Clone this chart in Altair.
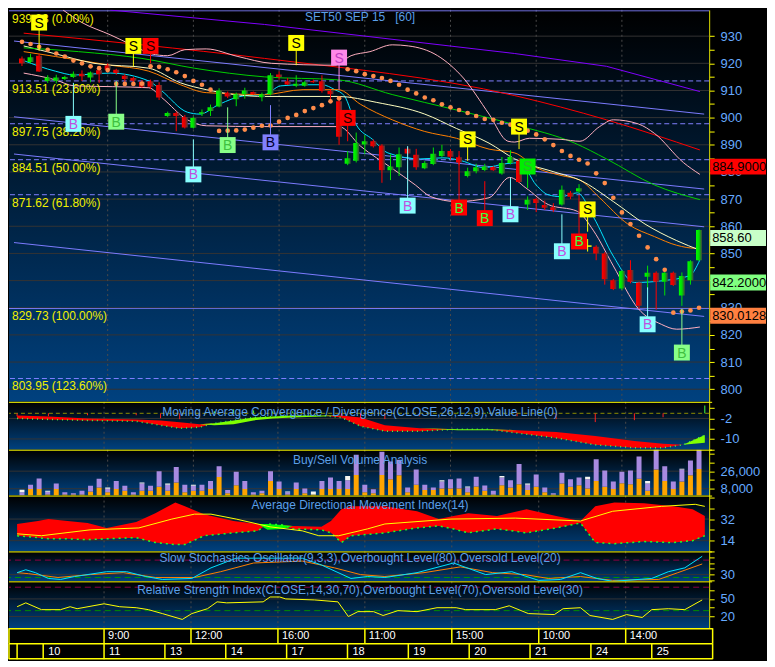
import altair as alt
import pandas as pd

# ---------------------------------------------------------------- candles (hourly bars)
bars = list(range(80))
opens = [921.8, 920.5, 922.8, 913.5, 913.6, 914.2, 915.0, 916.2, 914.8, 917.4,
         919.2, 917.6, 915.4, 914.6, 913.2, 913.4, 912.0, 900.6, 901.7, 900.2,
         896.3, 901.4, 902.4, 904.1, 909.2, 906.8, 908.6, 909.4, 907.5, 908.6,
         915.9, 913.4, 911.7, 911.7, 913.5, 913.4, 909.8, 906.0, 883.0, 884.1,
         890.1, 891.3, 889.7, 880.6, 881.7, 888.5, 886.3, 881.4, 882.9, 885.9,
         887.7, 885.4, 878.5, 880.3, 880.7, 881.8, 879.4, 883.3, 884.0, 868.0,
         870.0, 867.8, 867.0, 868.0, 872.3, 872.8, 852.7, 852.5, 850.0, 840.1,
         837.1, 843.9, 839.3, 841.4, 842.9, 839.6, 842.9, 834.5, 840.1, 847.5]
highs = [922.5, 923.5, 923.5, 915.6, 915.8, 915.4, 917.0, 917.4, 917.0, 918.2,
         920.0, 918.0, 916.0, 915.0, 913.8, 914.0, 913.0, 902.2, 902.2, 901.0,
         900.4, 903.0, 904.8, 910.8, 909.6, 909.2, 911.0, 909.6, 909.2, 916.4,
         917.0, 914.6, 915.6, 913.6, 914.0, 915.6, 910.4, 907.0, 887.7, 894.5,
         893.5, 892.0, 890.2, 886.5, 889.0, 889.2, 888.5, 884.0, 889.0, 890.0,
         888.4, 886.0, 881.6, 883.0, 883.0, 882.2, 885.5, 888.0, 885.0, 871.0,
         870.5, 869.5, 868.5, 875.0, 873.0, 875.5, 855.3, 853.0, 850.5, 840.6,
         843.8, 847.5, 839.6, 845.5, 843.4, 843.5, 843.3, 843.0, 847.5, 858.8]
lows = [919.0, 920.0, 916.8, 912.8, 912.6, 913.8, 914.6, 913.5, 913.0, 912.8,
        916.6, 915.8, 913.2, 913.0, 911.0, 910.5, 906.5, 900.2, 895.0, 896.0,
        896.0, 900.6, 900.6, 903.8, 907.2, 904.2, 907.0, 908.4, 906.0, 908.2,
        914.0, 912.0, 911.2, 911.4, 912.8, 909.2, 905.6, 890.0, 882.5, 883.5,
        886.5, 889.0, 876.0, 877.0, 878.5, 886.2, 880.8, 881.0, 882.5, 885.5,
        884.6, 882.5, 878.0, 879.5, 880.3, 880.4, 879.0, 882.8, 876.0, 866.0,
        865.2, 866.0, 865.2, 867.6, 870.0, 872.3, 850.7, 847.5, 838.5, 836.5,
        836.5, 839.0, 829.6, 836.7, 829.3, 834.5, 838.0, 830.7, 838.5, 847.2]
closes = [920.0, 922.2, 917.0, 914.8, 914.8, 915.0, 916.2, 915.2, 916.6, 916.0,
          917.6, 916.4, 914.2, 913.6, 911.4, 911.4, 907.4, 901.7, 900.6, 896.4,
          899.9, 902.0, 903.8, 910.0, 907.8, 908.6, 910.0, 908.6, 908.6, 915.6,
          915.0, 912.2, 912.5, 913.0, 913.0, 909.8, 908.6, 893.0, 885.0, 890.7,
          891.3, 889.5, 880.6, 882.0, 886.5, 886.8, 881.7, 883.3, 886.7, 887.7,
          885.6, 883.5, 880.3, 881.7, 882.0, 880.6, 883.3, 885.5, 876.3, 869.8,
          868.6, 866.8, 866.0, 873.4, 870.9, 874.0, 852.7, 850.0, 840.5, 836.9,
          843.5, 839.6, 830.7, 842.9, 839.6, 842.9, 838.4, 841.7, 847.1, 858.6]
sar = [927.9, 927.1, 926.1, 925.0, 923.6, 922.5, 921.0, 920.0, 918.9, 918.2,
       917.5, 912.4, 912.4, 912.4, 912.5, 918.9, 918.7, 917.8, 916.7, 915.3,
       913.5, 912.1, 910.3, 895.1, 895.2, 895.3, 895.6, 896.3, 897.0, 897.1,
       898.5, 899.9, 901.0, 902.4, 903.5, 904.6, 906.0, 907.1, 917.8, 917.1,
       916.0, 915.3, 914.6, 913.5, 912.1, 910.3, 908.9, 907.4, 906.4, 904.9,
       903.8, 902.8, 901.7, 900.6, 899.5, 899.2, 898.1, 897.4, 896.7, 895.2,
       893.8, 892.0, 889.9, 887.7, 885.9, 884.5, 883.1, 879.5, 875.9, 870.5,
       865.1, 860.8, 856.5, 852.2, 847.9, 844.0, 828.2, 828.6, 829.0, 830.0]

# ---------------------------------------------------------------- overlay lines (bar index, price)
ema_fast = [(0.2, 921.0), (3.9, 917.1), (6.1, 915.7), (10.3, 916.4), (14.8, 913.5), (16.3, 909.9),
            (19.3, 902.0), (20.75, 901.3), (23, 904.9), (26, 908.1), (28.3, 908.5), (30.2, 911.7),
            (32.8, 912.1), (35, 912.1), (36.5, 910.3), (37.6, 908.1), (39, 897.4), (40.9, 892.0),
            (42.7, 887.0), (46.5, 884.8), (49.1, 885.2), (51.3, 884.1), (53.9, 881.6), (56.6, 883.1),
            (58.1, 883.4), (60, 875.2), (61.4, 871.6), (62.9, 870.9), (64.8, 872.3), (66.7, 863.3),
            (69, 849.0), (71.5, 839.3), (74.9, 840.0), (77.9, 841.8), (79.1, 847.6)]
ema_mid = [(0.2, 924.3), (3.9, 922.5), (10.3, 919.3), (14.8, 917.1), (18.5, 912.1), (21.5, 909.2),
           (28.3, 908.5), (32.8, 910.3), (36.9, 910.3), (39.5, 904.9), (43.2, 899.2), (47.0, 894.9),
           (50.7, 892.4), (54.5, 888.4), (57.5, 887.0), (60, 881.6), (62.9, 878.7), (65.1, 877.0),
           (67.4, 870.5), (70.7, 860.8), (73.8, 856.2), (76.4, 853.0), (78.6, 851.9), (79.1, 852.3)]
sma_mid = [(0.2, 926.4), (3.9, 923.5), (8.4, 920.0), (14.8, 918.2), (18.5, 912.8), (21.5, 910.3),
           (28.3, 907.8), (36.9, 907.8), (41.4, 905.6), (47.0, 901.3), (50.7, 896.0), (54.5, 890.6),
           (57.5, 884.8), (62.2, 879.9), (65.1, 877.0), (69, 869.1), (72.7, 860.8), (76.4, 854.7),
           (79.1, 851.2)]
sma_slow = [(0.2, 925.7), (6.6, 924.3), (14, 921.8), (20.1, 918.2), (28.3, 915.0), (36.9, 913.9),
            (43.2, 908.5), (50.7, 902.8), (57.5, 897.4), (64.5, 890.6), (68.2, 884.8), (73.8, 875.2),
            (79.1, 869.8)]
sma_long = [(0.2, 931.1), (14, 926.8), (28.3, 921.8), (57.5, 908.1), (68.2, 899.2), (79.1, 888.1)]
bb_upper = [(4.8, 939.6), (7, 935.0), (10.3, 930.5), (13, 926.5), (15.1, 923.5), (17.0, 922.8),
            (19, 925.0), (21.5, 925.3), (25.2, 922.5), (29.1, 920.0), (36.5, 919.3), (38.4, 922.8),
            (40.6, 924.3), (43.2, 926.8), (45.1, 926.4), (48.5, 922.8), (51.5, 914.6), (54.5, 901.3),
            (56.7, 891.3), (57.5, 891.0), (59.2, 892.4), (62.9, 892.0), (65.1, 891.3), (67.4, 896.7),
            (69, 899.2), (71.9, 897.7), (73.8, 894.2), (77.2, 883.4), (79.1, 879.1)]
bb_lower = [(0.2, 916.4), (3.9, 913.9), (6.1, 911.7), (10.6, 911.4), (14.8, 911.0), (16.3, 907.4),
            (19.3, 899.2), (21.5, 897.0), (28.3, 896.7), (37.0, 896.7), (39.5, 889.5), (43.2, 881.3),
            (45.9, 875.2), (47.7, 870.9), (50.7, 869.1), (54.5, 870.5), (56.9, 878.0), (58.8, 874.1),
            (61.4, 868.0), (64.8, 865.5), (66.7, 858.3), (69, 845.4), (71.9, 829.7), (74.6, 823.9),
            (76.4, 822.1), (79.1, 822.9)]
trend_1 = [(-0.93, 928.2), (79.6, 901.3)]
trend_2 = [(-0.93, 900.3), (79.6, 873.7)]
trend_3 = [(-0.93, 886.6), (79.6, 859.8)]
trend_4 = [(-0.93, 854.0), (79.6, 826.8)]
trend_top = [(10.3, 939.6), (28.3, 934.3), (57.5, 923.6), (68.2, 918.9), (79.1, 909.6)]

fib_vals = [939.33, 913.51, 897.75, 884.51, 871.62, 829.73, 803.95]
fib_pcts = ["0.00%", "23.60%", "38.20%", "50.00%", "61.80%", "100.00%", "123.60%"]
fib_kind = ["solid", "dash", "dash", "dash", "dash", "solid", "dash"]

# buy / sell signals
mk_i = [2, 13, 15, 6, 11, 20, 24, 29, 32, 37, 38, 45, 51, 52, 54, 57, 58, 59, 63, 65, 66, 73, 77]
mk_p = [935.0, 926.4, 926.4, 897.7, 898.5, 879.1, 889.9, 890.9, 927.5, 922.1, 899.9, 867.6, 866.9,
        892.0, 863.0, 864.4, 896.7, 882.0, 850.8, 854.4, 866.2, 823.9, 813.5]
mk_end = [924.6, 918.9, 920.0, 912.8, 913.5, 892.0, 903.8, 904.6, 919.3, 910.3, 891.3, 889.5, 887.7,
          884.1, 876.6, 878.0, 888.4, 874.1, 864.4, 871.6, 858.0, 837.5, 829.6]
mk_txt = ["S", "S", "S", "B", "B", "B", "B", "B", "S", "S", "S", "B", "B", "S", "B", "B", "S", "S",
          "B", "B", "S", "B", "B"]
mk_kind = ["ys", "ys", "rs", "cb", "gb", "cb", "gb", "pb", "ys", "ms", "rs", "cb", "rb", "ys", "rb",
           "cb", "ys", "gs", "cb", "rb", "ys", "cb", "gb"]

tag_vals = [884.9, 858.6, 842.2, 830.0128]
tag_txt = ["884.9000", "858.60", "842.2000", "830.0128"]
tag_kind = ["red", "lime", "green", "orange"]

# MACD
macd_i = [0, 3.6, 8.1, 13.7, 16.5, 18.7, 21, 22.7, 24.9, 27.2, 29.4, 31.7, 35, 37.3, 39.5, 42.3,
          46.3, 50.7, 54.1, 57.5, 62, 66.5, 71, 74.3, 76.6, 79.1]
macd_m = [-2.0, -2.38, -2.76, -3.14, -4.67, -5.81, -5.43, -3.9, -2.76, -1.62, -1.24, -0.86, -0.86,
          -1.62, -5.05, -6.95, -6.95, -6.19, -6.19, -7.71, -9.62, -12.29, -13.43, -13.43, -12.29, -8.48]
macd_s = [-0.86, -1.24, -2.0, -2.38, -2.76, -3.52, -4.29, -4.67, -4.29, -2.76, -2.0, -1.62, -1.24,
          -0.86, -1.62, -4.67, -5.81, -6.57, -6.57, -6.57, -7.33, -8.86, -10.76, -11.9, -12.29, -11.52]

# volume
vol_buy = [0, 7700, 7700, 2000, 7700, 2000, 2000, 2000, 5300, 9300,
           4300, 7700, 6000, 2000, 6000, 6000, 10000, 6000, 14300, 4300,
           6000, 6000, 7700, 20000, 3300, 11700, 7700, 2000, 3300, 16000,
           7700, 2000, 7700, 3300, 2000, 7700, 7700, 7700, 7700, 22000,
           4300, 3300, 22000, 17700, 21700, 4300, 12000, 6700, 6700, 8300,
           8300, 8300, 4300, 10300, 6000, 2000, 11700, 9300, 12700, 6700,
           10000, 4300, 2000, 13300, 10000, 11700, 8300, 16000, 10000, 7700,
           13700, 12700, 18300, 6000, 27700, 16000, 7700, 15300, 21700, 28300]
vol_sell = [4300, 4300, 10700, 3000, 5700, 2300, 1300, 4000, 5700, 9000,
            3700, 8300, 5000, 2300, 7300, 5000, 16000, 6000, 16000, 7700,
            5000, 6000, 8300, 11000, 3300, 13700, 8300, 2300, 2700, 10000,
            7700, 2300, 6700, 5000, 0, 8300, 11700, 8300, 9000, 20700,
            7700, 4300, 24000, 18300, 16000, 5000, 15700, 5300, 2700, 7000,
            9300, 10300, 5000, 10000, 5300, 4000, 7700, 7300, 20700, 5300,
            12700, 5000, 1300, 11000, 7700, 7700, 9300, 22300, 16700, 7700,
            11700, 14000, 22700, 7300, 27700, 15000, 7700, 12300, 15300, 20000]
vol_even = [2700, 0, 0, 1000, 0, 0, 0, 0, 0, 0,
            1300, 0, 0, 0, 1000, 0, 0, 1300, 0, 0,
            1000, 0, 0, 0, 0, 0, 0, 0, 0, 0,
            0, 1000, 0, 0, 3300, 0, 0, 0, 4300, 0,
            0, 0, 0, 0, 0, 0, 0, 0, 0, 1300,
            0, 0, 1000, 0, 0, 0, 1700, 0, 0, 1300,
            0, 0, 0, 0, 0, 0, 2700, 0, 0, 0,
            0, 0, 0, 2700, 0, 0, 0, 1000, 0, 0]

# ADX / DMI
dmi_i = [0, 2.4, 3.6, 5.8, 8.1, 10.3, 13.7, 15.9, 18.2, 19.3, 21.5, 24.9, 27.7, 28.8, 30.5, 31.7,
         35, 36.1, 37.3, 38.4, 42.3, 46.0, 48.5, 50.2, 51.9, 55.2, 58.6, 62, 64.8, 66.5, 68.7, 72.1,
         75.5, 77.7, 79.1]
dmi_minus = [27.9, 30.4, 32.0, 30.4, 28.7, 24.6, 29.5, 36.9, 45.9, 42.6, 36.1, 30.4, 27.9, 23.0, 23.8,
             26.3, 25.5, 30.4, 40.2, 42.6, 42.6, 38.5, 32.0, 34.5, 36.9, 34.5, 40.2, 34.5, 30.4, 42.6,
             45.9, 45.1, 42.6, 40.2, 34.5]
dmi_plus = [18.1, 16.5, 15.6, 15.6, 14.8, 15.6, 16.5, 12.4, 10.7, 10.7, 18.1, 20.5, 22.2, 27.9, 27.1,
            23.8, 23.0, 20.5, 12.4, 18.1, 20.5, 24.6, 26.3, 23.8, 20.5, 23.8, 20.5, 24.6, 28.7, 12.4,
            11.5, 13.2, 12.4, 14.0, 18.1]
adx_i = [0, 2.8, 8.4, 14, 17.8, 20.4, 22.3, 25.2, 29.1, 32.8, 34.7, 37, 40.3, 42.3, 49.9, 57.3, 64.8,
         68.5, 74.1, 78, 79.1]
adx_v = [19.7, 18.1, 23.0, 24.6, 32.0, 36.1, 36.1, 32.0, 25.5, 22.2, 18.1, 18.1, 23.8, 27.9, 32.0,
         32.8, 30.4, 38.5, 42.6, 44.3, 42.6]

# slow stochastics
stk_i = [0, 1, 2.1, 3.6, 5, 6.6, 10.3, 12.6, 14.8, 16.7, 20.1, 22.3, 25.2, 27.2, 32.8, 35, 38.4, 40.3,
         42.3, 46, 50.2, 53.9, 56.9, 60, 62.5, 64.8, 66.7, 68.5, 73, 74.9, 76.8, 78.8]
stk_k = [36.7, 46.7, 36.7, 16.7, 13.3, 23.3, 40, 40, 23.3, 13.3, 16.7, 53.3, 86.7, 86.7, 86.7, 63.3,
         16.7, 23.3, 20, 36.7, 70, 30, 40, 10, 13.3, 36.7, 16.7, 6.7, 16.7, 40, 53.3, 93.3]
std_i = [0, 1.3, 4.7, 8.4, 12.2, 15.9, 20.4, 23.4, 27.2, 32.8, 36.5, 39.5, 42.3, 46.8, 51, 54.7, 58.4,
         61.1, 64.8, 68.5, 73.8, 76, 78.8]
std_d = [36.7, 33.3, 20, 30, 36.7, 20, 20, 40, 70, 76.7, 53.3, 30, 23.3, 36.7, 56.7, 36.7, 30, 16.7,
         23.3, 10, 13.3, 36.7, 66.7]

# RSI
rsi_i = [0, 1, 2.8, 5, 6.1, 6.9, 10, 11.8, 13.7, 15.1, 16.7, 19, 20.1, 21.9, 23, 24.1, 28.3, 29.1,
         30.2, 30.9, 34.2, 36.9, 38.1, 39.2, 41, 42.1, 43.8, 46, 48.3, 50.5, 51.6, 55, 56.6, 58.8,
         61.8, 62.8, 64.8, 65.9, 68.5, 70.1, 71.9, 73, 74.9, 76.8, 78.8]
rsi_v = [36.7, 43.3, 31.7, 31.7, 36.7, 33.3, 41.7, 36.7, 35, 31.7, 25, 15, 25, 33.3, 45, 43.3, 45,
         53.3, 53.3, 50, 48.3, 45, 20, 28.3, 28.3, 21.7, 30, 28.3, 35, 35, 31.7, 31.7, 38.3, 25, 23.3,
         33.3, 35, 21.7, 15, 23.3, 18.3, 31.7, 33.3, 31.7, 48.3]

# time axis
hour_i = [10, 20, 30, 40, 50, 60, 70]
hour_txt = ["9:00", "12:00", "16:00", "11:00", "15:00", "10:00", "14:00"]
day_i = [3, 10, 17, 24, 31, 38, 45, 52, 59, 66, 73]
day_txt = ["10", "11", "13", "14", "17", "18", "19", "20", "21", "24", "25"]
price_grid = list(range(800, 931, 10))

# ---------------------------------------------------------------- styles / layout
W = 702
H_MAIN, H_MACD, H_VOL, H_ADX, H_STO, H_RSI, H_TIME = 393, 48, 46, 56, 30, 47, 31
X0, X1 = -0.933, 79.6
FONT = "Liberation Sans"
AXBLUE = "#66aaff"
TTLBLUE = "#5a9fe8"
YEL = "#ffff00"
GRID = "#333333"
VGRID = "#4a4a4a"
XS = alt.Scale(domain=[X0, X1], nice=False, zero=False)
BG = alt.LinearGradient(gradient="linear",
                        stops=[alt.GradientStop(color="#000000", offset=0),
                               alt.GradientStop(color="#00417f", offset=1)],
                        x1=0, x2=0, y1=0, y2=1)
G_UP = alt.LinearGradient(gradient="linear",
                          stops=[alt.GradientStop(color="#00ff00", offset=0),
                                 alt.GradientStop(color="#00dd00", offset=0.5),
                                 alt.GradientStop(color="#404040", offset=1)],
                          x1=0, x2=1, y1=0, y2=0)
G_DN = alt.LinearGradient(gradient="linear",
                          stops=[alt.GradientStop(color="#ff0000", offset=0),
                                 alt.GradientStop(color="#dd0000", offset=0.5),
                                 alt.GradientStop(color="#404040", offset=1)],
                          x1=0, x2=1, y1=0, y2=0)
MK_STYLE = {"ys": ("#ffff00", "#000000"), "rs": ("#ff0000", "#200000"),
            "cb": ("#88ffff", "#c050e0"), "gb": ("#88ff88", "#40c040"),
            "pb": ("#8080ff", "#000030"), "ms": ("#ff88e8", "#c040c0"),
            "rb": ("#ff0000", "#40ff40"), "gs": ("#00ee00", "#30b030")}
TAG_STYLE = {"red": "#ff0000", "lime": "#c8ffc8", "green": "#80ff80", "orange": "#ff8040"}
TAG_SHAPE = "M-1,-0.2857L1,-0.2857L1,0.2857L-1,0.2857Z"
LINE_STYLE = {"ema_fast": "#00e5ff", "ema_mid": "#ff8000", "sma_mid": "#ffffc0",
              "sma_slow": "#00d000", "sma_long": "#ff0000", "bb_upper": "#ffb0c0",
              "bb_lower": "#ffb0c0"}
TREND_STYLE = {"t1": "#7b7bff", "t2": "#7b7bff", "t3": "#7b7bff", "t4": "#7b7bff", "top": "#8000ff"}

one = pd.DataFrame({"k": [0]})
vg = pd.DataFrame({"g": hour_i})


def X(f):
    return alt.X(f, type="quantitative", scale=XS, axis=None)


def yaxis(values, labeled, comma=False):
    cond = " || ".join("datum.value == %s" % v for v in labeled)
    txt = "format(datum.value, ',d')" if comma else "toString(datum.value)"
    return alt.Axis(orient="right", values=values, labelExpr="(%s) ? %s : ''" % (cond, txt),
                    domainColor=YEL, tickColor=YEL, tickSize=5, labelColor=AXBLUE,
                    labelFont=FONT, labelFontSize=13, labelPadding=6, grid=False,
                    title=None, labelOverlap=False, domainWidth=1, tickWidth=1)


def base_layers(h, Yf, grid_vals):
    return [
        alt.Chart(one).mark_rect(color=BG).encode(
            x=alt.value(0), x2=alt.value(W), y=alt.value(0), y2=alt.value(h)),
        alt.Chart(pd.DataFrame({"g": grid_vals})).mark_rule(color=GRID).encode(y=Yf("g")),
        alt.Chart(vg).mark_rule(color=VGRID, strokeDash=[2, 3]).encode(x=X("g")),
    ]


def top_layers(title, ty):
    return [
        alt.Chart(one).mark_rule(color=YEL, strokeWidth=1).encode(
            x=alt.value(0), x2=alt.value(W + 3), y=alt.value(0.5)),
        alt.Chart(one).mark_text(text=title, font=FONT, fontSize=12, color=TTLBLUE,
                                 align="center", baseline="middle").encode(
            x=alt.value(352), y=alt.value(ty)),
    ]


def pts(name, seq):
    return [{"name": name, "i": a, "p": b} for a, b in seq]


# ---------------------------------------------------------------- main price panel
ysm = alt.Scale(domain=[795.36, 939.68], nice=False, zero=False)
axm = yaxis(list(range(800, 935, 5)), list(range(800, 935, 10)))


def YM(f):
    return alt.Y(f, type="quantitative", scale=ysm, axis=axm)


cdf = pd.DataFrame({"i": bars, "o": opens, "h": highs, "l": lows, "c": closes})
cdf["lo"] = cdf[["o", "c"]].min(axis=1)
cdf["hi"] = cdf[["o", "c"]].max(axis=1)
cdf["dir"] = ["up" if c > o else ("down" if c < o else "flat") for o, c in zip(opens, closes)]
cdf["wc"] = cdf["dir"].map({"up": "#00e000", "down": "#ff0000", "flat": YEL})

ma_rows = []
for nm, seq in [("ema_fast", ema_fast), ("ema_mid", ema_mid), ("sma_mid", sma_mid),
                ("sma_slow", sma_slow), ("sma_long", sma_long), ("bb_upper", bb_upper),
                ("bb_lower", bb_lower)]:
    ma_rows += pts(nm, seq)
madf = pd.DataFrame(ma_rows)
madf["col"] = madf["name"].map(LINE_STYLE)

tr_rows = []
for nm, seq in [("t1", trend_1), ("t2", trend_2), ("t3", trend_3), ("t4", trend_4), ("top", trend_top)]:
    tr_rows += pts(nm, seq)
trdf = pd.DataFrame(tr_rows)
trdf["col"] = trdf["name"].map(TREND_STYLE)

fibdf = pd.DataFrame({"p": fib_vals, "kind": fib_kind,
                      "t": ["%.2f (%s)" % (v, q) for v, q in zip(fib_vals, fib_pcts)]})

mdf = pd.DataFrame({"i": mk_i, "p": mk_p, "e": mk_end, "t": mk_txt, "kind": mk_kind})
mdf["bg"] = mdf["kind"].map(lambda k: MK_STYLE[k][0])
mdf["fg"] = mdf["kind"].map(lambda k: MK_STYLE[k][1])

tagdf = pd.DataFrame({"p": tag_vals, "t": tag_txt, "kind": tag_kind})
tagdf["bg"] = tagdf["kind"].map(TAG_STYLE)

main_layers = base_layers(H_MAIN, YM, price_grid) + [
    alt.Chart(fibdf).mark_rule(color="#8080ff", strokeWidth=1).encode(
        y=YM("p"),
        strokeDash=alt.StrokeDash("kind:N", scale=alt.Scale(domain=["solid", "dash"],
                                                             range=[[1, 0], [5, 3]]), legend=None)),
    alt.Chart(trdf).mark_line(strokeWidth=1, clip=True).encode(
        x=X("i"), y=YM("p"), color=alt.Color("col:N", scale=None), detail="name:N"),
    alt.Chart(madf).mark_line(strokeWidth=1, clip=True, interpolate="monotone").encode(
        x=X("i"), y=YM("p"), color=alt.Color("col:N", scale=None), detail="name:N"),
    alt.Chart(fibdf).mark_text(font=FONT, fontSize=12, color="#f0f000", align="left",
                               baseline="top", dy=3).encode(
        x=alt.value(3), y=YM("p"), text="t:N"),
    alt.Chart(cdf).mark_rule(strokeWidth=1, clip=True).encode(
        x=X("i"), y=YM("l"), y2=alt.Y2("h"), color=alt.Color("wc:N", scale=None)),
    alt.Chart(cdf[cdf["dir"] == "up"]).mark_bar(size=6, color=G_UP, clip=True).encode(
        x=X("i"), y=YM("lo"), y2=alt.Y2("hi")),
    alt.Chart(cdf[cdf["dir"] == "down"]).mark_bar(size=6, color=G_DN, clip=True).encode(
        x=X("i"), y=YM("lo"), y2=alt.Y2("hi")),
    alt.Chart(cdf[cdf["dir"] == "flat"]).mark_point(shape="M-1,0L1,0", size=64, strokeWidth=1.5,
                                                    color=YEL, filled=False, opacity=1).encode(
        x=X("i"), y=YM("c")),
    alt.Chart(pd.DataFrame({"i": bars, "p": sar})).mark_circle(size=22, color="#ff8c4a",
                                                               opacity=1, clip=True).encode(
        x=X("i"), y=YM("p")),
    alt.Chart(mdf).mark_rule(strokeWidth=1).encode(
        x=X("i"), y=YM("p"), y2=alt.Y2("e"), color=alt.Color("bg:N", scale=None)),
    alt.Chart(mdf).mark_square(size=256, opacity=1, filled=True).encode(
        x=X("i"), y=YM("p"), color=alt.Color("bg:N", scale=None)),
    alt.Chart(mdf).mark_text(font=FONT, fontSize=14, align="center", baseline="middle", dy=1).encode(
        x=X("i"), y=YM("p"), text="t:N", color=alt.Color("fg:N", scale=None)),
    alt.Chart(one).mark_text(text="SET50 SEP 15\u00a0\u00a0\u00a0[60]", font=FONT, fontSize=12,
                             color=TTLBLUE, align="center", baseline="middle").encode(
        x=alt.value(352), y=alt.value(7)),
    alt.Chart(tagdf).mark_point(shape=TAG_SHAPE, size=56 * 56, filled=True, opacity=1,
                                strokeWidth=0, yOffset=8).encode(
        x=alt.value(W + 29), y=YM("p"), color=alt.Color("bg:N", scale=None)),
    alt.Chart(tagdf).mark_text(font=FONT, fontSize=13, color="#000000", align="left",
                               baseline="middle", dy=8).encode(
        x=alt.value(W + 3), y=YM("p"), text="t:N"),
]
main = alt.layer(*main_layers).properties(width=W, height=H_MAIN)

# ---------------------------------------------------------------- MACD
ys_macd = alt.Scale(domain=[-14.19, 4.48], nice=False, zero=False)
ax_macd = yaxis([-14, -10, -6, -2, 2], [-2, -10])


def YMA(f):
    return alt.Y(f, type="quantitative", scale=ys_macd, axis=ax_macd)


macdf = pd.DataFrame({"i": macd_i, "m": macd_m, "s": macd_s})
macd_base = alt.Chart(macdf).transform_calculate(
    r_lo="datum.m", r_hi="max(datum.s, datum.m)", g_lo="datum.s", g_hi="max(datum.m, datum.s)",
    hist="datum.m - datum.s", z="0", hc="datum.m < datum.s ? '#ff2020' : '#40ff40'")
macd_layers = base_layers(H_MACD, YMA, [-2, -10]) + [
    alt.Chart(one).transform_calculate(z="0").mark_rule(color="#8c8c00", strokeDash=[4, 3]).encode(
        y=YMA("z:Q")),
    macd_base.mark_rule(strokeWidth=1).encode(x=X("i"), y=YMA("z:Q"), y2=alt.Y2("hist:Q"),
                                              color=alt.Color("hc:N", scale=None)),
    macd_base.mark_area(color="#ff0000", opacity=1).encode(x=X("i"), y=YMA("r_lo:Q"), y2=alt.Y2("r_hi:Q")),
    macd_base.mark_area(color="#80ff00", opacity=1).encode(x=X("i"), y=YMA("g_lo:Q"), y2=alt.Y2("g_hi:Q")),
    macd_base.mark_line(color="#40ff40", strokeDash=[1, 4], strokeWidth=1.5).encode(x=X("i"), y=YMA("m")),
] + top_layers("Moving Average Convergence / Divergence(CLOSE,26,12,9),Value Line(0)", 10)
macd = alt.layer(*macd_layers).properties(width=W, height=H_MACD)

# ---------------------------------------------------------------- volume
ys_vol = alt.Scale(domain=[1000, 48000], nice=False, zero=False)
ax_vol = yaxis([8000, 17000, 26000, 35000, 44000], [8000, 26000], comma=True)


def YV(f):
    return alt.Y(f, type="quantitative", scale=ys_vol, axis=ax_vol)


vdf = pd.DataFrame({"i": bars, "b": vol_buy, "s": vol_sell, "n": vol_even})
vbase = alt.Chart(vdf).transform_calculate(
    z="0", v1="datum.b", v2="datum.b + datum.s", v3="datum.b + datum.s + datum.n")
vol_layers = base_layers(H_VOL, YV, [8000, 26000]) + [
    vbase.mark_bar(size=5, color="#ffa500", clip=True).encode(x=X("i"), y=YV("z:Q"), y2=alt.Y2("v1:Q")),
    vbase.mark_bar(size=5, color="#a88ae0", clip=True).encode(x=X("i"), y=YV("v1:Q"), y2=alt.Y2("v2:Q")),
    vbase.mark_bar(size=5, color="#f4f4f0", clip=True).encode(x=X("i"), y=YV("v2:Q"), y2=alt.Y2("v3:Q")),
] + top_layers("Buy/Sell Volume Analysis", 10)
vol = alt.layer(*vol_layers).properties(width=W, height=H_VOL)

# ---------------------------------------------------------------- ADX
ys_adx = alt.Scale(domain=[5.0, 51.6], nice=False, zero=False)
ax_adx = yaxis([5, 14, 23, 32, 41, 50], [14, 32])


def YA(f):
    return alt.Y(f, type="quantitative", scale=ys_adx, axis=ax_adx)


dmdf = pd.DataFrame({"i": dmi_i, "mn": dmi_minus, "pl": dmi_plus})
dbase = alt.Chart(dmdf).transform_calculate(
    r_lo="datum.pl", r_hi="max(datum.mn, datum.pl)", g_lo="datum.mn", g_hi="max(datum.pl, datum.mn)")
adx_layers = base_layers(H_ADX, YA, [14, 32]) + [
    dbase.mark_area(color="#ff0000", opacity=1).encode(x=X("i"), y=YA("r_lo:Q"), y2=alt.Y2("r_hi:Q")),
    dbase.mark_area(color="#00ff00", opacity=1).encode(x=X("i"), y=YA("g_lo:Q"), y2=alt.Y2("g_hi:Q")),
    alt.Chart(dmdf).mark_line(color="#20ff20", strokeDash=[2, 4], strokeWidth=1.5).encode(
        x=X("i"), y=YA("pl")),
    alt.Chart(pd.DataFrame({"i": adx_i, "v": adx_v})).mark_line(color=YEL, strokeWidth=1).encode(
        x=X("i"), y=YA("v")),
] + top_layers("Average Directional Movement Index(14)", 9)
adx = alt.layer(*adx_layers).properties(width=W, height=H_ADX)

# ---------------------------------------------------------------- slow stochastics
ys_sto = alt.Scale(domain=[6.7, 110], nice=False, zero=False)
ax_sto = yaxis([10, 30, 50, 70, 90], [30])


def YS(f):
    return alt.Y(f, type="quantitative", scale=ys_sto, axis=ax_sto)


sto_layers = base_layers(H_STO, YS, [30]) + [
    alt.Chart(pd.DataFrame({"v": [80]})).mark_rule(color="#8a0045", strokeDash=[6, 4]).encode(y=YS("v")),
    alt.Chart(pd.DataFrame({"v": [20]})).mark_rule(color="#009000", strokeDash=[6, 4]).encode(y=YS("v")),
    alt.Chart(pd.DataFrame({"i": std_i, "v": std_d})).mark_line(color="#ff7f00", strokeWidth=1).encode(
        x=X("i"), y=YS("v")),
    alt.Chart(pd.DataFrame({"i": stk_i, "v": stk_k})).mark_line(color="#00e5ff", strokeWidth=1).encode(
        x=X("i"), y=YS("v")),
] + top_layers("Slow Stochastics Oscillator(9,3,3),Overbought Level(80),Oversold Level(20)", 7)
sto = alt.layer(*sto_layers).properties(width=W, height=H_STO)

# ---------------------------------------------------------------- RSI
ys_rsi = alt.Scale(domain=[0, 80], nice=False, zero=False)
ax_rsi = yaxis([20, 35, 50, 65], [20, 50])


def YR(f):
    return alt.Y(f, type="quantitative", scale=ys_rsi, axis=ax_rsi)


rsi_layers = base_layers(H_RSI, YR, [20, 50]) + [
    alt.Chart(pd.DataFrame({"v": [70]})).mark_rule(color="#8a0045", strokeDash=[6, 4]).encode(y=YR("v")),
    alt.Chart(pd.DataFrame({"v": [30]})).mark_rule(color="#009000", strokeDash=[6, 4]).encode(y=YR("v")),
    alt.Chart(pd.DataFrame({"i": rsi_i, "v": rsi_v})).mark_line(color=YEL, strokeWidth=1).encode(
        x=X("i"), y=YR("v")),
] + top_layers("Relative Strength Index(CLOSE,14,30,70),Overbought Level(70),Oversold Level(30)", 9)
rsi = alt.layer(*rsi_layers).properties(width=W, height=H_RSI)

# ---------------------------------------------------------------- time axis
ys_t = alt.Scale(domain=[0, H_TIME], reverse=True, nice=False, zero=False)


def YT(f):
    return alt.Y(f, type="quantitative", scale=ys_t, axis=None)


hsep = pd.DataFrame({"a": [X0] * 3, "b": [80] * 3, "y": [0.5, 15.6, 30.5]})
row1 = pd.DataFrame({"i": [X0] + hour_i + [80], "y0": [0] * 9, "y1": [15.6] * 9})
row2 = pd.DataFrame({"i": [X0, 0] + day_i + [80], "y0": [15.6] * 14, "y1": [31] * 14})
time_layers = [
    alt.Chart(hsep).mark_rule(color=YEL, strokeWidth=1.5).encode(x=X("a"), x2=alt.X2("b"), y=YT("y")),
    alt.Chart(row1).mark_rule(color=YEL, strokeWidth=1.5).encode(x=X("i"), y=YT("y0"), y2=alt.Y2("y1")),
    alt.Chart(row2).mark_rule(color=YEL, strokeWidth=1.5).encode(x=X("i"), y=YT("y0"), y2=alt.Y2("y1")),
    alt.Chart(pd.DataFrame({"i": hour_i, "t": hour_txt, "y": [8] * 7})).mark_text(
        font=FONT, fontSize=11, color="#ffffff", align="left", baseline="middle", dx=4).encode(
        x=X("i"), y=YT("y"), text="t:N"),
    alt.Chart(pd.DataFrame({"i": day_i, "t": day_txt, "y": [23.5] * 11})).mark_text(
        font=FONT, fontSize=11, color="#ffffff", align="left", baseline="middle", dx=5).encode(
        x=X("i"), y=YT("y"), text="t:N"),
]
timeax = alt.layer(*time_layers).properties(width=W, height=H_TIME)

chart = alt.vconcat(main, macd, vol, adx, sto, rsi, timeax, spacing=0, bounds="flush").properties(
    padding=0, background="#000000").configure_view(strokeWidth=0)

chart.save("out.html", embed_options={"renderer": "svg", "actions": False})
